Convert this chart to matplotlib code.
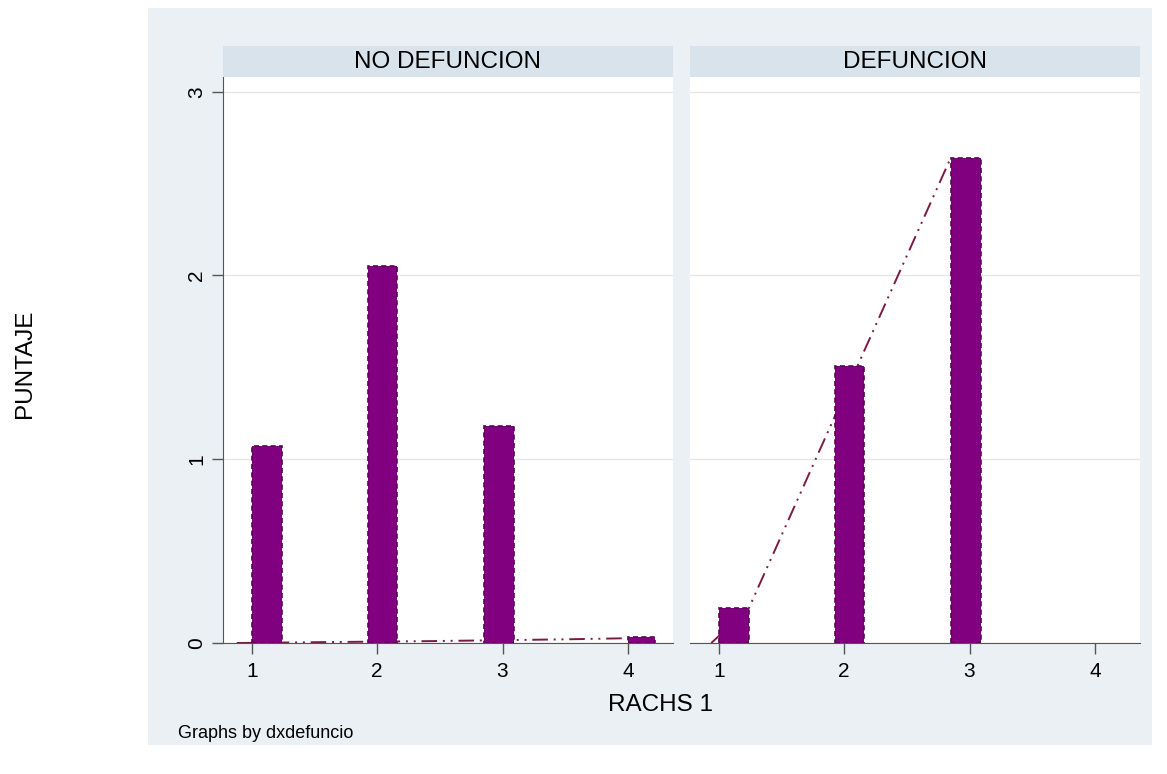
import matplotlib.pyplot as plt

plt.rcParams['font.family'] = ['Liberation Sans', 'DejaVu Sans']

# values
panels = ['NO DEFUNCION', 'DEFUNCION']
bar_left = [[1.0, 1.93, 2.85, 4.0], [1.0, 1.93, 2.85]]
bar_width = [[0.24, 0.23, 0.24, 0.22], [0.24, 0.23, 0.24]]
bar_height = [[1.07, 2.05, 1.18, 0.03], [0.19, 1.505, 2.64]]
line_x = [[0.88, 1.6, 2.4, 3.5, 4.0], [0.94, 1.24, 2.85]]
line_y = [[0.0, 0.005, 0.01, 0.02, 0.026], [0.0, 0.19, 2.64]]
x_ticks = [1, 2, 3, 4]
y_ticks = [0, 1, 2, 3]

W, H = 1167, 774
BG = '#EAF0F4'
STRIP = '#D8E3EB'
BAR = '#800080'
LINE = '#7A1A45'


def fx(px):
    return px / W


def fy(py):
    return 1 - py / H


fig = plt.figure(figsize=(W / 100, H / 100), dpi=100)
fig.patch.set_facecolor('white')

# outer graph region
bg = fig.add_axes([fx(148), fy(745), (1152 - 148) / W, (745 - 8) / H])
bg.set_facecolor(BG)
bg.set_xticks([])
bg.set_yticks([])
for s in bg.spines.values():
    s.set_visible(False)

lefts = [223, 690]
pw = 450
for i, name in enumerate(panels):
    x0 = lefts[i]
    ax = fig.add_axes([fx(x0), fy(643), pw / W, (643 - 77) / H])
    ax.set_facecolor('white')
    ax.set_xlim(0.77, 4.36)
    ax.set_ylim(0, 3.08)
    ax.set_yticks(y_ticks)
    ax.set_xticks(x_ticks)
    ax.yaxis.grid(True, color='#E6E6E6', linewidth=1)
    ax.set_axisbelow(True)
    for s in ['top', 'right']:
        ax.spines[s].set_visible(False)
    ax.spines['bottom'].set_color('#555555')
    if i == 0:
        ax.spines['left'].set_color('#555555')
        ax.set_yticklabels([str(t) for t in y_ticks], rotation=90, va='center', fontsize=15)
        ax.tick_params(axis='y', length=8, width=1, color='#555555', pad=4)
    else:
        ax.spines['left'].set_visible(False)
        ax.tick_params(axis='y', length=0, labelleft=False)
    ax.set_xticklabels([str(t) for t in x_ticks], fontsize=15)
    ax.tick_params(axis='x', length=8, width=1, color='#555555', pad=6)

    ax.plot(line_x[i], line_y[i], color=LINE, linewidth=1.4,
            linestyle=(0, (8, 3, 1, 3, 1, 3)), zorder=2, clip_on=False)
    ax.bar(bar_left[i], bar_height[i], width=bar_width[i], align='edge',
           color=BAR, edgecolor='#5A005A', linewidth=1.2, linestyle=(0, (3, 2)), zorder=3)

    sx = fig.add_axes([fx(x0), fy(77), pw / W, (77 - 46) / H])
    sx.set_facecolor(STRIP)
    sx.set_xticks([])
    sx.set_yticks([])
    for s in sx.spines.values():
        s.set_visible(False)
    sx.text(0.5, 0.5, name, ha='center', va='center', fontsize=17.5, transform=sx.transAxes)

fig.text(fx(660), fy(705), 'RACHS 1', ha='center', va='center', fontsize=17.5)
fig.text(fx(25), fy(364), 'PUNTAJE', ha='center', va='center', rotation=90, fontsize=17.5)
fig.text(fx(178), fy(734), 'Graphs by dxdefuncio', ha='left', va='center', fontsize=13)

fig.savefig('out.png', dpi=100)
